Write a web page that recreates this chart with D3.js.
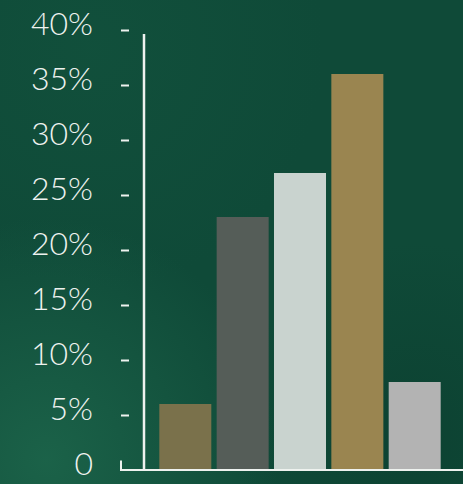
<!DOCTYPE html>
<html><head><meta charset="utf-8">
<script src="https://cdn.jsdelivr.net/npm/d3@7"></script>
<style>html,body{margin:0;padding:0;background:#0e4a37;overflow:hidden}</style>
</head><body>
<script>
const categories = ["A", "B", "C", "D", "E"];
const values = [6, 23, 27, 36, 8];
const colors = ["#7a714b", "#555d58", "#c9d3cf", "#9a8550", "#b3b3b3"];
const tickValues = [0, 5, 10, 15, 20, 25, 30, 35, 40];
const tickLabels = ["0", "5%", "10%", "15%", "20%", "25%", "30%", "35%", "40%"];

const W = 463, H = 484;
const svg = d3.select("body").append("svg").attr("width", W).attr("height", H);
const defs = svg.append("defs");
const g1 = defs.append("radialGradient").attr("id", "bl").attr("cx", "0.1").attr("cy", "0.95").attr("r", "0.5");
g1.append("stop").attr("offset", "0").attr("stop-color", "#1f6a4e").attr("stop-opacity", 0.75);
g1.append("stop").attr("offset", "1").attr("stop-color", "#1f6a4e").attr("stop-opacity", 0);
const g2 = defs.append("radialGradient").attr("id", "br").attr("cx", "0.9").attr("cy", "0.9").attr("r", "0.4");
g2.append("stop").attr("offset", "0").attr("stop-color", "#0b3d2e").attr("stop-opacity", 0.6);
g2.append("stop").attr("offset", "1").attr("stop-color", "#0b3d2e").attr("stop-opacity", 0);
const g3 = defs.append("radialGradient").attr("id", "tl").attr("cx", "0.2").attr("cy", "0.1").attr("r", "0.5");
g3.append("stop").attr("offset", "0").attr("stop-color", "#12523d").attr("stop-opacity", 0.7);
g3.append("stop").attr("offset", "1").attr("stop-color", "#12523d").attr("stop-opacity", 0);

svg.append("rect").attr("width", W).attr("height", H).attr("fill", "#0f4a38");
svg.append("rect").attr("width", W).attr("height", H).attr("fill", "url(#tl)");
svg.append("rect").attr("width", W).attr("height", H).attr("fill", "url(#bl)");
svg.append("rect").attr("width", W).attr("height", H).attr("fill", "url(#br)");

const axisX = 144, baseY = 470, topY = 30;
const y = d3.scaleLinear().domain([0, 40]).range([baseY, topY]);
const x = d3.scaleBand().domain(categories).range([159.3, 440.7]).paddingInner(0.093).paddingOuter(0);

// bars
svg.append("g").selectAll("rect").data(values).join("rect")
  .attr("x", (d, i) => x(categories[i]))
  .attr("y", d => y(d))
  .attr("width", x.bandwidth())
  .attr("height", d => baseY - y(d))
  .attr("fill", (d, i) => colors[i]);

// y axis
const axis = d3.axisLeft(y).tickValues(tickValues).tickFormat((d, i) => tickLabels[i]).tickSize(0).tickPadding(0);
const ag = svg.append("g").attr("transform", `translate(${axisX},0)`).call(axis);
ag.select(".domain").remove();
ag.selectAll(".tick text")
  .attr("x", -51).attr("dy", "0.32em").attr("y", -6)
  .attr("fill", "#eef2ef")
  .style("font-family", "Lato, 'Open Sans', sans-serif")
  .style("font-weight", 300)
  .style("font-size", "32px");
ag.selectAll(".tick line")
  .attr("x1", -23).attr("x2", -15)
  .attr("stroke", "#eef2ef").attr("stroke-width", 2);
ag.selectAll(".tick").filter(d => d === 0).select("line")
  .attr("x1", -23).attr("x2", -23).attr("y1", -10).attr("y2", 0);

// axis lines
svg.append("line").attr("x1", axisX).attr("x2", axisX).attr("y1", 34).attr("y2", baseY)
  .attr("stroke", "#eef2ef").attr("stroke-width", 2.5);
svg.append("line").attr("x1", axisX - 24).attr("x2", W).attr("y1", baseY).attr("y2", baseY)
  .attr("stroke", "#eef2ef").attr("stroke-width", 2);
</script>
</body></html>
